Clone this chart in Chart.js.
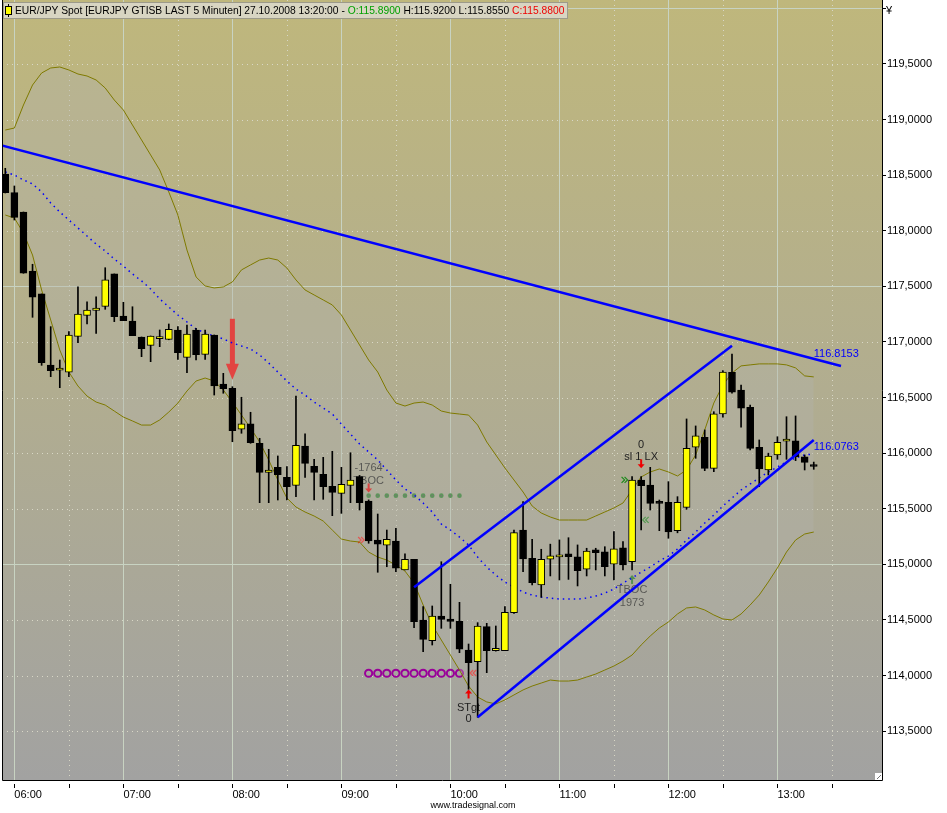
<!DOCTYPE html>
<html>
<head>
<meta charset="utf-8">
<title>EUR/JPY Spot 5 Minuten</title>
<script src="https://cdn.jsdelivr.net/npm/chart.js@4.4.1/dist/chart.umd.min.js"></script>
<style>
  html, body { margin: 0; padding: 0; background: #fff; }
  canvas { display: block; }
</style>
</head>
<body>
<canvas id="chart" width="947" height="813"></canvas>
<script>
// EUR/JPY 5 minute bars, 27.10.2008 (first bar 05:55, last 13:20)
const firstBar = '05:55';
const barMinutes = 5;

const open = [
  118.511, 118.343, 118.169, 117.638, 117.432, 116.793, 116.746, 116.728, 117.051, 117.240,
  117.285, 117.321, 117.612, 117.234, 117.189, 117.045, 116.970, 117.030, 117.024, 117.108,
  116.862, 117.108, 116.889, 117.063, 116.622, 116.584, 116.215, 116.263, 116.089, 115.828,
  115.873, 115.783, 115.711, 116.065, 115.882, 115.810, 115.702, 115.639, 115.711, 115.789,
  115.570, 115.219, 115.172, 115.210, 114.950, 115.046, 114.500, 114.314, 114.536, 114.509,
  114.491, 114.230, 114.125, 114.440, 114.224, 114.224, 114.566, 115.309, 115.055, 114.815,
  115.046, 115.068, 115.094, 115.069, 114.956, 115.130, 115.112, 115.001, 115.150, 115.024,
  115.759, 115.714, 115.552, 115.558, 115.303, 115.513, 116.053, 116.143, 115.864, 116.353,
  116.727, 116.568, 116.413, 116.053, 115.849, 115.984, 116.107, 116.112, 115.968, 115.890
];
const high = [
  118.562, 118.403, 118.169, 117.699, 117.432, 117.138, 116.838, 117.093, 117.497, 117.362,
  117.407, 117.668, 117.612, 117.357, 117.317, 117.045, 117.054, 117.108, 117.162, 117.138,
  117.153, 117.123, 117.108, 117.063, 116.718, 116.598, 116.503, 116.368, 116.134, 116.035,
  115.975, 115.879, 116.514, 116.173, 115.945, 115.963, 116.017, 115.873, 116.004, 115.800,
  115.580, 115.453, 115.309, 115.325, 115.094, 115.046, 114.620, 114.626, 115.024, 114.821,
  114.659, 114.284, 114.476, 114.470, 114.446, 114.620, 115.309, 115.564, 115.226, 115.136,
  115.182, 115.220, 115.240, 115.175, 115.145, 115.145, 115.159, 115.294, 115.204, 115.789,
  115.790, 115.873, 115.579, 115.744, 115.609, 116.308, 116.245, 116.209, 116.373, 116.742,
  116.892, 116.613, 116.433, 116.119, 116.000, 116.148, 116.328, 116.335, 115.984, 115.920
];
const low = [
  118.340, 118.097, 117.618, 117.222, 116.790, 116.688, 116.589, 116.688, 116.994, 117.162,
  117.078, 117.294, 117.183, 117.192, 117.057, 116.868, 116.823, 116.958, 117.020, 116.844,
  116.724, 116.838, 116.844, 116.523, 116.539, 116.103, 116.179, 116.089, 115.555, 115.555,
  115.579, 115.579, 115.609, 115.783, 115.579, 115.585, 115.438, 115.459, 115.555, 115.489,
  115.190, 114.929, 114.979, 114.934, 114.950, 114.431, 114.215, 114.275, 114.425, 114.425,
  114.206, 113.877, 113.625, 114.026, 114.220, 114.224, 114.560, 114.934, 114.815, 114.704,
  114.896, 114.860, 114.865, 114.806, 114.896, 114.950, 114.896, 114.860, 114.950, 114.950,
  115.309, 115.489, 115.303, 115.235, 115.284, 115.495, 115.954, 115.843, 115.834, 116.323,
  116.539, 116.233, 116.029, 115.699, 115.804, 115.945, 115.945, 115.933, 115.849, 115.855
];
const close = [
  118.343, 118.121, 117.618, 117.402, 116.814, 116.742, 116.766, 117.063, 117.252, 117.288,
  117.305, 117.558, 117.228, 117.192, 117.057, 116.940, 117.054, 117.035, 117.114, 116.904,
  117.072, 116.886, 117.072, 116.604, 116.580, 116.202, 116.263, 116.094, 115.828, 115.849,
  115.807, 115.699, 116.071, 115.909, 115.828, 115.699, 115.648, 115.720, 115.759, 115.555,
  115.210, 115.181, 115.226, 114.965, 115.046, 114.485, 114.326, 114.536, 114.506, 114.488,
  114.237, 114.116, 114.446, 114.224, 114.246, 114.569, 115.285, 115.049, 114.835, 115.046,
  115.076, 115.072, 115.069, 114.943, 115.120, 115.105, 114.979, 115.139, 114.995, 115.759,
  115.708, 115.549, 115.549, 115.293, 115.558, 116.044, 116.155, 115.864, 116.353, 116.730,
  116.548, 116.404, 116.044, 115.858, 115.975, 116.098, 116.128, 115.968, 115.918, 115.880
];

// Bollinger bands
const bbUpper = [
  118.906, 118.924, 119.131, 119.311, 119.419, 119.464, 119.473, 119.446, 119.410, 119.392,
  119.356, 119.284, 119.176, 119.086, 118.951, 118.817, 118.682, 118.547, 118.349, 118.142,
  117.827, 117.585, 117.504, 117.486, 117.495, 117.540, 117.648, 117.693, 117.737, 117.755,
  117.737, 117.665, 117.558, 117.468, 117.423, 117.378, 117.333, 117.243, 117.108, 116.973,
  116.838, 116.730, 116.568, 116.451, 116.424, 116.451, 116.460, 116.433, 116.379, 116.361,
  116.352, 116.343, 116.253, 116.101, 115.984, 115.867, 115.759, 115.651, 115.525, 115.462,
  115.426, 115.399, 115.399, 115.399, 115.399, 115.435, 115.471, 115.507, 115.552, 115.669,
  115.786, 115.831, 115.858, 115.831, 115.795, 115.849, 115.984, 116.209, 116.451, 116.613,
  116.721, 116.785, 116.794, 116.803, 116.803, 116.803, 116.794, 116.767, 116.695, 116.686
];
const bbMiddle = [
  118.529, 118.502, 118.457, 118.421, 118.349, 118.250, 118.169, 118.097, 118.025, 117.953,
  117.881, 117.818, 117.746, 117.683, 117.612, 117.549, 117.477, 117.387, 117.315, 117.243,
  117.180, 117.117, 117.081, 117.054, 117.027, 116.991, 116.964, 116.937, 116.883, 116.811,
  116.730, 116.649, 116.577, 116.523, 116.460, 116.406, 116.352, 116.262, 116.172, 116.082,
  116.011, 115.939, 115.849, 115.759, 115.678, 115.624, 115.552, 115.471, 115.363, 115.309,
  115.246, 115.174, 115.066, 114.976, 114.904, 114.841, 114.796, 114.751, 114.724, 114.706,
  114.697, 114.688, 114.688, 114.688, 114.697, 114.715, 114.742, 114.778, 114.832, 114.877,
  114.931, 114.976, 115.030, 115.075, 115.138, 115.219, 115.291, 115.372, 115.444, 115.525,
  115.597, 115.669, 115.723, 115.777, 115.831, 115.876, 115.921, 115.957, 115.984, 115.993
];
const bbLower = [
  118.142, 118.115, 117.980, 117.782, 117.468, 117.198, 116.928, 116.730, 116.604, 116.514,
  116.460, 116.433, 116.379, 116.325, 116.290, 116.253, 116.253, 116.299, 116.370, 116.451,
  116.559, 116.649, 116.676, 116.649, 116.568, 116.460, 116.343, 116.226, 116.101, 115.939,
  115.759, 115.597, 115.516, 115.471, 115.435, 115.390, 115.309, 115.228, 115.210, 115.201,
  115.111, 115.066, 115.039, 114.994, 114.940, 114.832, 114.635, 114.455, 114.320, 114.185,
  114.050, 113.906, 113.807, 113.763, 113.745, 113.781, 113.826, 113.871, 113.906, 113.933,
  113.960, 113.951, 113.951, 113.960, 113.987, 114.014, 114.050, 114.086, 114.131, 114.185,
  114.275, 114.356, 114.428, 114.482, 114.554, 114.608, 114.617, 114.590, 114.545, 114.509,
  114.500, 114.554, 114.635, 114.725, 114.842, 114.968, 115.111, 115.219, 115.273, 115.291
];

// hand drawn lines
const resistanceTimes = ['05:53', '13:35'];
const resistancePrices = [118.768, 116.784];
const channelTopTimes = ['09:40', '12:35'];
const channelTopPrices = [114.794, 116.967];
const channelBottomTimes = ['10:15', '13:20'];
const channelBottomPrices = [113.625, 116.119];
const lineLabels = ['116.8153', '116.0763'];

// signal markers
const bigArrow = ['08:00', 116.66];
const arrowsDown = [['09:15', 115.647], ['11:45', 115.864]];
const arrowsUp = [['10:10', 113.875], ['11:40', 114.905]];
const notes = [
  ['09:15', 115.870, '-1764'], ['09:15', 115.750, 'TBOC'],
  ['10:10', 113.711, 'STgt'], ['10:10', 113.607, '0'],
  ['11:40', 114.770, 'TBOC'], ['11:40', 114.656, '1973'],
  ['11:45', 116.074, '0'], ['11:45', 115.963, 'sl 1 LX']
];
const stopDots = { from: '09:15', to: '10:05', price: 115.618 };
const targetRings = { from: '09:15', to: '10:05', price: 114.021 };
const chevrons = [
  ['09:15', 115.219, 'right', 'red'], ['10:15', 114.023, 'left', 'red'],
  ['11:40', 115.760, 'right', 'green'], ['11:45', 115.400, 'left', 'green']
];

const toMin = t => typeof t === 'number' ? t : (+t.slice(0, 2)) * 60 + (+t.slice(3, 5));
const fmtTime = m => String(Math.floor(m / 60)).padStart(2, '0') + ':' + String(m % 60).padStart(2, '0');

const barTimes = open.map((_, i) => toMin(firstBar) + i * barMinutes);
const last = open.length - 1;

const FONT = "'Liberation Sans', Arial, sans-serif";

function pts(times, values) {
  return times.map((t, i) => ({ x: toMin(t), y: values[i] }));
}

function smallArrow(ctx, x, y, dir, color) {
  // dir 1 = pointing down (tip at y), -1 = pointing up
  ctx.fillStyle = color;
  ctx.fillRect(x - 1, dir > 0 ? y - 9 : y + 3, 2, 6);
  ctx.beginPath();
  ctx.moveTo(x - 3.5, y - dir * 4);
  ctx.lineTo(x + 3.5, y - dir * 4);
  ctx.lineTo(x, y);
  ctx.closePath();
  ctx.fill();
}

function drawChevron(ctx, x, y, dir, color) {
  ctx.strokeStyle = color;
  ctx.lineWidth = 1.2;
  for (let k = 0; k < 2; k++) {
    const cx = x + dir * k * 3;
    ctx.beginPath();
    ctx.moveTo(cx - dir * 2.5, y - 3);
    ctx.lineTo(cx + dir * 0.5, y);
    ctx.lineTo(cx - dir * 2.5, y + 3);
    ctx.stroke();
  }
}

const decor = {
  id: 'decor',
  beforeDraw(chart) {
    const { ctx, chartArea: a } = chart;
    ctx.save();
    ctx.fillStyle = '#fff';
    ctx.fillRect(0, 0, chart.width, chart.height);
    const g = ctx.createLinearGradient(0, a.top, 0, a.bottom);
    g.addColorStop(0, '#bfb77c');
    g.addColorStop(0.5, '#b1ad90');
    g.addColorStop(1, '#a2a2a1');
    ctx.fillStyle = g;
    ctx.fillRect(a.left, a.top, a.right - a.left, a.bottom - a.top);
    ctx.restore();
  },
  beforeDatasetsDraw(chart) {
    const { ctx, chartArea: a, scales: { x, y } } = chart;
    ctx.save();
    ctx.lineWidth = 1;
    // grid: solid every hour / 2.5 yen, dotted otherwise
    y.ticks.forEach(t => {
      const py = Math.round(y.getPixelForValue(t.value)) + 0.5;
      const solid = Math.abs(t.value / 2.5 - Math.round(t.value / 2.5)) < 1e-6;
      ctx.strokeStyle = solid ? '#c8d3c2' : '#d8d7c6';
      ctx.setLineDash(solid ? [] : [1, 4]);
      ctx.beginPath();
      ctx.moveTo(a.left, py);
      ctx.lineTo(a.right, py);
      ctx.stroke();
    });
    x.ticks.forEach(t => {
      const px = Math.round(x.getPixelForValue(t.value)) + 0.5;
      const solid = Math.round(t.value) % 60 === 0;
      ctx.strokeStyle = solid ? '#c8d3c2' : '#d8d7c6';
      ctx.setLineDash(solid ? [] : [1, 4]);
      ctx.beginPath();
      ctx.moveTo(px, a.top);
      ctx.lineTo(px, a.bottom);
      ctx.stroke();
    });
    ctx.setLineDash([]);

    // signal markers
    const X = t => x.getPixelForValue(toMin(t));
    const Y = p => y.getPixelForValue(p);

    ctx.font = '11px ' + FONT;
    ctx.textAlign = 'center';
    ctx.textBaseline = 'middle';
    ctx.fillStyle = '#1e1e1e';
    notes.forEach(n => ctx.fillText(n[2], X(n[0]), Y(n[1])));

    // stop dots
    for (let m = toMin(stopDots.from); m <= toMin(stopDots.to); m += barMinutes) {
      const px = x.getPixelForValue(m), py = Y(stopDots.price);
      ctx.fillStyle = '#2a822a';
      ctx.beginPath();
      ctx.arc(px, py, 2.3, 0, Math.PI * 2);
      ctx.fill();
      ctx.fillStyle = '#6a3a6a';
      ctx.fillRect(px - 0.5, py - 0.5, 1, 1);
    }
    // target rings
    ctx.strokeStyle = '#990099';
    ctx.lineWidth = 2;
    for (let m = toMin(targetRings.from); m <= toMin(targetRings.to); m += barMinutes) {
      ctx.beginPath();
      ctx.arc(x.getPixelForValue(m), Y(targetRings.price), 3.6, 0, Math.PI * 2);
      ctx.stroke();
    }

    chevrons.forEach(c => {
      const bx = X(c[0]);
      const color = c[3] === 'red' ? '#ff2020' : '#1a8a1a';
      if (c[2] === 'right') drawChevron(ctx, bx - 8, Y(c[1]), 1, color);
      else drawChevron(ctx, bx + (c[3] === 'red' ? -4 : 5), Y(c[1]), -1, color);
    });

    arrowsDown.forEach(a2 => smallArrow(ctx, X(a2[0]), Y(a2[1]), 1, '#ee0000'));
    arrowsUp.forEach((a2, i) => smallArrow(ctx, X(a2[0]), Y(a2[1]), -1, i === 0 ? '#ee0000' : '#1a7a1a'));

    // big sell arrow
    const bx = X(bigArrow[0]), tip = Y(bigArrow[1]);
    ctx.fillStyle = '#ff0000';
    ctx.fillRect(bx - 2.5, tip - 61, 5, 47);
    ctx.beginPath();
    ctx.moveTo(bx - 6.5, tip - 16);
    ctx.lineTo(bx + 6.5, tip - 16);
    ctx.lineTo(bx, tip);
    ctx.closePath();
    ctx.fill();
    ctx.restore();
  },
  afterDatasetsDraw(chart) {
    const { ctx, scales: { x, y } } = chart;
    ctx.save();
    ctx.font = '11px ' + FONT;
    ctx.fillStyle = '#0000ff';
    ctx.textAlign = 'left';
    ctx.textBaseline = 'middle';
    const lx = x.getPixelForValue(barTimes[last]);
    ctx.fillText(lineLabels[0], lx, y.getPixelForValue(+lineLabels[0]) - 9);
    ctx.fillText(lineLabels[1], lx, y.getPixelForValue(+lineLabels[1]) + 2);
    ctx.restore();
  },
  afterDraw(chart) {
    const { ctx, chartArea: a, scales: { x } } = chart;
    ctx.save();
    // frame
    ctx.strokeStyle = '#000';
    ctx.lineWidth = 1;
    ctx.beginPath();
    ctx.moveTo(a.left + 0.5, a.top);
    ctx.lineTo(a.left + 0.5, a.bottom + 0.5);
    ctx.lineTo(a.right + 0.5, a.bottom + 0.5);
    ctx.lineTo(a.right + 0.5, a.top);
    ctx.stroke();
    // x ticks, detached from the frame
    x.ticks.forEach(t => {
      const px = Math.round(x.getPixelForValue(t.value)) + 0.5;
      ctx.beginPath();
      ctx.moveTo(px, a.bottom + 4);
      ctx.lineTo(px, a.bottom + 8);
      ctx.stroke();
    });
    // resize grip
    ctx.fillStyle = '#fff';
    ctx.fillRect(a.right - 7, a.bottom - 7, 7, 7);
    ctx.strokeStyle = '#777';
    ctx.beginPath();
    ctx.moveTo(a.right - 5, a.bottom - 1);
    ctx.lineTo(a.right - 1, a.bottom - 5);
    ctx.stroke();

    // currency sign and watermark
    ctx.fillStyle = '#000';
    ctx.font = '11px ' + FONT;
    ctx.textAlign = 'left';
    ctx.textBaseline = 'middle';
    ctx.fillText('\u00a5', a.right + 4, 11);
    ctx.font = '9px ' + FONT;
    ctx.textAlign = 'center';
    ctx.fillText('www.tradesignal.com', 473, 806);

    // title box
    const parts = [
      ['EUR/JPY Spot [EURJPY GTISB LAST 5 Minuten] 27.10.2008 ' + fmtTime(barTimes[last]) + ':00 - ', '#000'],
      ['O:' + open[last].toFixed(4), '#00a000'],
      [' H:' + high[last].toFixed(4) + ' L:' + low[last].toFixed(4) + ' ', '#000'],
      ['C:' + close[last].toFixed(4), '#ee0000']
    ];
    let size = 11;
    ctx.font = size + 'px ' + FONT;
    const w = parts.reduce((s, p) => s + ctx.measureText(p[0]).width, 0);
    size = Math.min(11, size * 550 / w);
    ctx.font = size + 'px ' + FONT;
    ctx.fillStyle = '#d8d5c2';
    ctx.fillRect(3, 2, 565, 17);
    ctx.strokeStyle = '#9c9a8a';
    ctx.strokeRect(3.5, 2.5, 564, 16);
    // tiny candle icon
    ctx.fillStyle = '#000';
    ctx.fillRect(8, 4, 1, 13);
    ctx.fillStyle = '#ffff00';
    ctx.fillRect(6, 7, 5, 7);
    ctx.strokeStyle = '#000';
    ctx.strokeRect(5.5, 6.5, 6, 8);
    ctx.textAlign = 'left';
    ctx.textBaseline = 'middle';
    let tx = 15;
    parts.forEach(p => {
      ctx.fillStyle = p[1];
      ctx.fillText(p[0], tx, 11);
      tx += ctx.measureText(p[0]).width;
    });
    ctx.restore();
  }
};

const bodyColors = close.map((c, i) => c >= open[i] ? '#ffff00' : '#000000');

new Chart(document.getElementById('chart'), {
  type: 'bar',
  data: {
    datasets: [
      {
        type: 'line', label: 'BB upper', order: 6,
        data: pts(barTimes, bbUpper),
        borderColor: '#7f7a00', borderWidth: 1, pointRadius: 0,
        fill: '+1', backgroundColor: 'rgba(178,178,172,0.38)'
      },
      {
        type: 'line', label: 'BB lower', order: 5,
        data: pts(barTimes, bbLower),
        borderColor: '#7f7a00', borderWidth: 1, pointRadius: 0, fill: false
      },
      {
        type: 'line', label: 'BB middle', order: 4,
        data: pts(barTimes, bbMiddle),
        borderColor: '#0000ff', borderWidth: 1.5, borderDash: [1.5, 4],
        pointRadius: 0, fill: false
      },
      {
        label: 'wick', order: 3, grouped: false,
        data: barTimes.map((t, i) => ({ x: t, y: [low[i], high[i]] })),
        backgroundColor: '#000', barThickness: 1
      },
      {
        label: 'body', order: 2, grouped: false,
        data: barTimes.map((t, i) => ({ x: t, y: [open[i], close[i]] })),
        backgroundColor: bodyColors, borderColor: '#000', borderWidth: 1,
        borderSkipped: false, barThickness: 7, minBarLength: 2
      },
      {
        type: 'line', label: 'resistance', order: 1,
        data: pts(resistanceTimes, resistancePrices),
        borderColor: '#0000ff', borderWidth: 2.5, pointRadius: 0, fill: false
      },
      {
        type: 'line', label: 'channel top', order: 1,
        data: pts(channelTopTimes, channelTopPrices),
        borderColor: '#0000ff', borderWidth: 2.5, pointRadius: 0, fill: false
      },
      {
        type: 'line', label: 'channel bottom', order: 1,
        data: pts(channelBottomTimes, channelBottomPrices),
        borderColor: '#0000ff', borderWidth: 2.5, pointRadius: 0, fill: false
      }
    ]
  },
  options: {
    responsive: false,
    animation: false,
    devicePixelRatio: 1,
    layout: { padding: { left: 2, right: 0, top: 0, bottom: 0 } },
    plugins: { legend: { display: false }, tooltip: { enabled: false } },
    scales: {
      x: {
        type: 'linear',
        offset: false,
        min: 353.19,
        max: 837.57,
        afterFit(s) { s.height = 33; s.paddingLeft = 0; s.paddingRight = 0; },
        grid: { offset: false, drawOnChartArea: false, drawTicks: true, tickLength: 8, tickColor: 'rgba(0,0,0,0)' },
        border: { display: false },
        ticks: {
          stepSize: 30,
          includeBounds: false,
          autoSkip: false,
          maxRotation: 0,
          align: 'start',
          padding: 0,
          color: '#000',
          font: { family: FONT, size: 11 },
          callback: v => Math.round(v) % 60 === 0 ? fmtTime(Math.round(v)) : ''
        }
      },
      y: {
        type: 'linear',
        position: 'right',
        min: 113.061,
        max: 120.0755,
        afterFit(s) { s.width = 65; s.paddingTop = 0; s.paddingBottom = 0; },
        grid: { drawOnChartArea: false, drawTicks: true, tickLength: 4, tickColor: '#000' },
        border: { display: false },
        ticks: {
          stepSize: 0.5,
          includeBounds: false,
          autoSkip: false,
          padding: 1,
          color: '#000',
          font: { family: FONT, size: 11 },
          callback: v => v >= 119.99 ? '' : v.toFixed(4).replace('.', ',')
        }
      }
    }
  },
  plugins: [decor]
});
</script>
</body>
</html>
